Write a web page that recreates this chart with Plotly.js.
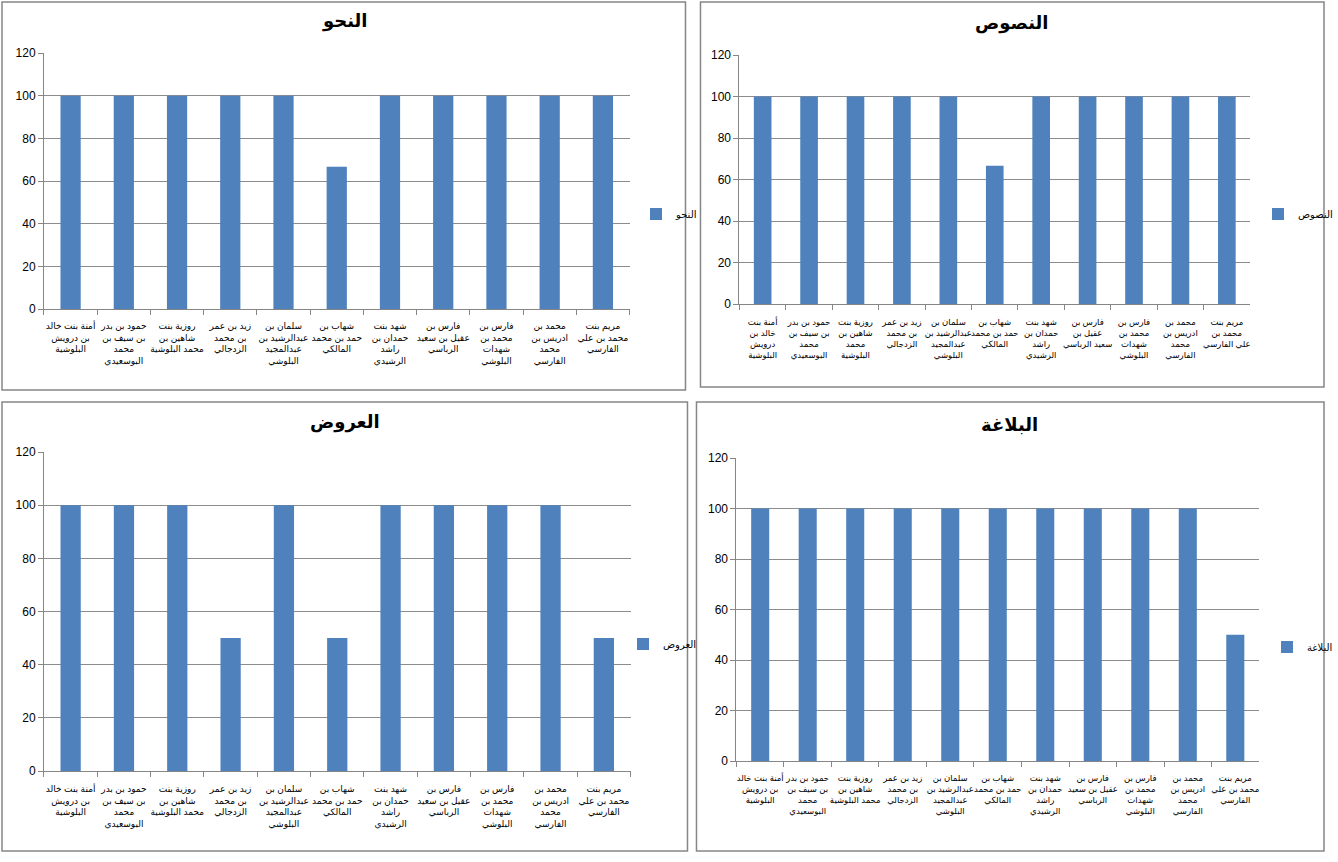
<!DOCTYPE html>
<html><head><meta charset="utf-8">
<script src="https://cdn.plot.ly/plotly-3.0.1.min.js"></script>
<style>html,body{margin:0;padding:0;background:#fff}#c{width:1338px;height:862px}</style>
</head><body><div id="c"></div>
<script>
const categories = ["أمنة بنت خالد بن درويش البلوشية","حمود بن بدر بن سيف بن محمد البوسعيدي","روزية بنت شاهين بن محمد البلوشية","زيد بن عمر بن محمد الزدجالي","سلمان بن عبدالرشيد بن عبدالمجيد البلوشي","شهاب بن حمد بن محمد المالكي","شهد بنت حمدان بن راشد الرشيدي","فارس بن عقيل بن سعيد الرباسي","فارس بن محمد بن شهدات البلوشي","محمد بن ادريس بن محمد الفارسي","مريم بنت محمد بن علي الفارسي"];
const labelsWide = ["أمنة بنت خالد<br>بن درويش<br>البلوشية","حمود بن بدر<br>بن سيف بن<br>محمد<br>البوسعيدي","روزية بنت<br>شاهين بن<br>محمد البلوشية","زيد بن عمر<br>بن محمد<br>الزدجالي","سلمان بن<br>عبدالرشيد بن<br>عبدالمجيد<br>البلوشي","شهاب بن<br>حمد بن محمد<br>المالكي","شهد بنت<br>حمدان بن<br>راشد<br>الرشيدي","فارس بن<br>عقيل بن سعيد<br>الرباسي","فارس بن<br>محمد بن<br>شهدات<br>البلوشي","محمد بن<br>ادريس بن<br>محمد<br>الفارسي","مريم بنت<br>محمد بن علي<br>الفارسي"];
const labelsNarrow = ["أمنة بنت<br>خالد بن<br>درويش<br>البلوشية","حمود بن بدر<br>بن سيف بن<br>محمد<br>البوسعيدي","روزية بنت<br>شاهين بن<br>محمد<br>البلوشية","زيد بن عمر<br>بن محمد<br>الزدجالي","سلمان بن<br>عبدالرشيد بن<br>عبدالمجيد<br>البلوشي","شهاب بن<br>حمد بن محمد<br>المالكي","شهد بنت<br>حمدان بن<br>راشد<br>الرشيدي","فارس بن<br>عقيل بن<br>سعيد الرباسي","فارس بن<br>محمد بن<br>شهدات<br>البلوشي","محمد بن<br>ادريس بن<br>محمد<br>الفارسي","مريم بنت<br>محمد بن<br>علي الفارسي"];
const nahw   = [100,100,100,100,100,66.67,100,100,100,100,100];
const nusus  = [100,100,100,100,100,66.67,100,100,100,100,100];
const arud   = [100,100,100,50,100,50,100,100,100,100,50];
const balagha= [100,100,100,100,100,100,100,100,100,100,50];
const titles = ["النحو","النصوص","العروض","البلاغة"];

const W=1338,H=862;
const px=x=>x/W, py=y=>1-y/H;
const FONT="Liberation Sans, Arial, DejaVu Sans, sans-serif";
const COLOR="#4F81BD";
const panels=[
 {data:nahw, frame:[2,686,2,390], plot:[44,630,53,309], leg:[636,214], tit:[345,22], lab:labelsWide, ls:9, so:8},
 {data:nusus, frame:[701,1325,2,387], plot:[740,1251,55,304], leg:[1259,214], tit:[1013,24], lab:labelsNarrow, ls:8.5, so:10},
 {data:arud, frame:[2,688,402,851], plot:[44,631,452,771], leg:[623,644], tit:[345,422], lab:labelsWide, ls:9, so:9},
 {data:balagha, frame:[697,1325,402,851], plot:[737,1260,458,761], leg:[1268,647], tit:[1010,425], lab:labelsWide, ls:8.5, so:9}
];
const traces=[], layout={width:W,height:H,margin:{l:0,r:0,t:0,b:0},paper_bgcolor:"#fff",plot_bgcolor:"#fff",
  font:{family:FONT,size:12,color:"#000"},bargap:0.62,shapes:[],annotations:[],showlegend:true};
panels.forEach((p,i)=>{
  const n=i+1, xa=n===1?"x":"x"+n, ya=n===1?"y":"y"+n, lg=n===1?"legend":"legend"+n;
  traces.push({type:"bar",x:categories,y:p.data,name:titles[i],xaxis:xa,yaxis:ya,legend:lg,
    marker:{color:COLOR},hoverinfo:"x+y"});
  layout[(n===1?"xaxis":"xaxis"+n)]={domain:[px(p.plot[0]),px(p.plot[1])],anchor:ya,type:"category",
    tickmode:"array",tickvals:categories,ticktext:p.lab,tickson:"boundaries",ticks:"outside",ticklen:5,
    tickcolor:"#868686",showline:true,linecolor:"#868686",showgrid:false,tickangle:0,ticklabelstandoff:p.so,
    tickfont:{size:p.ls,family:FONT},automargin:false,fixedrange:true};
  layout[(n===1?"yaxis":"yaxis"+n)]={domain:[py(p.plot[3]),py(p.plot[2])],anchor:xa,range:[0,120],dtick:20,
    ticks:"outside",ticklen:5,tickcolor:"#868686",showline:true,linecolor:"#868686",showgrid:true,
    gridcolor:"#8c8c8c",gridwidth:1,zeroline:false,tickfont:{size:12,family:FONT},automargin:false,fixedrange:true};
  layout[lg]={x:px(p.leg[0]),y:py(p.leg[1]),xanchor:"left",yanchor:"middle",xref:"paper",yref:"paper",
    font:{size:10,family:FONT},bgcolor:"rgba(0,0,0,0)",itemwidth:30};
  layout.shapes.push({type:"rect",xref:"paper",yref:"paper",x0:px(p.frame[0]),x1:px(p.frame[1]),
    y0:py(p.frame[3]),y1:py(p.frame[2]),line:{color:"#868686",width:1.5}});
  layout.annotations.push({text:"<b>"+titles[i]+"</b>",xref:"paper",yref:"paper",x:px(p.tit[0]),y:py(p.tit[1]),
    xanchor:"center",yanchor:"middle",showarrow:false,font:{size:18,family:FONT,color:"#000"}});
});
Plotly.newPlot("c",traces,layout,{displayModeBar:false,staticPlot:true});
</script></body></html>
